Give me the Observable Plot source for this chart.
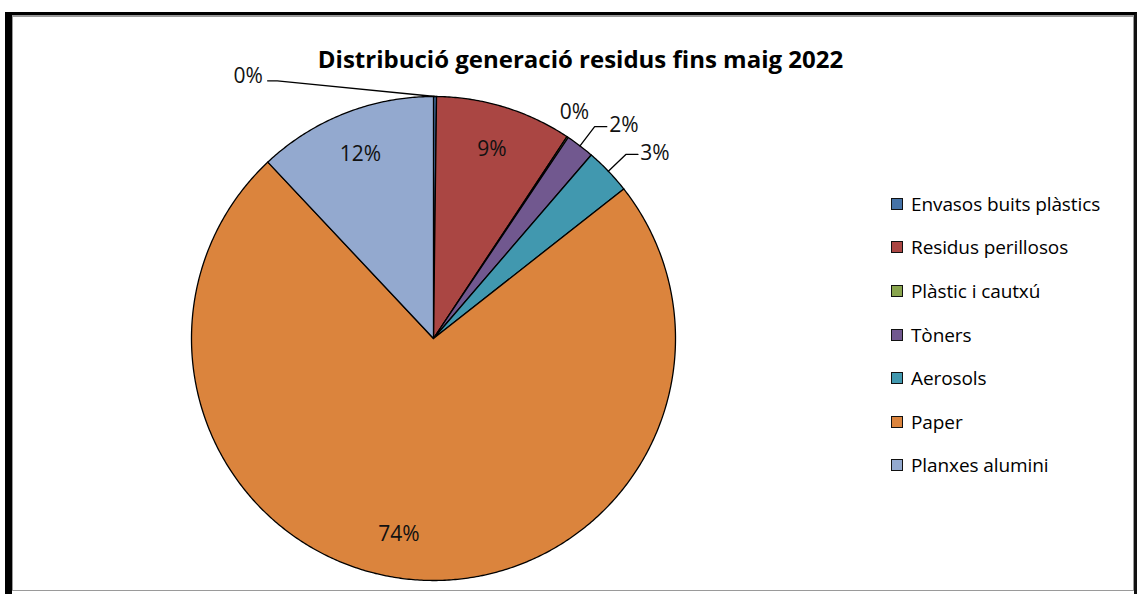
<!DOCTYPE html>
<html>
<head>
<meta charset="utf-8">
<script src="https://cdn.jsdelivr.net/npm/d3@7"></script>
<script src="https://cdn.jsdelivr.net/npm/@observablehq/plot@0.6"></script>
<style>
  html, body { margin: 0; padding: 0; background: #fff; }
  #wrap { position: relative; width: 1137px; height: 594px; overflow: hidden; font-family: "Open Sans", Lato, sans-serif; }
  #frame { position: absolute; left: 5px; top: 12px; width: 1122px; height: 600px;
           border-left: 7px solid #000; border-top: 3px solid #000; border-right: 3px solid #111; box-sizing: content-box; }
  #inner { position: absolute; left: 0; top: 0; right: 0; bottom: 24px; border: 1px solid #9a9a9a; border-top-width: 2px; }
  #chart { position: absolute; left: 0; top: 0; }
  #title { position: absolute; left: 0; width: 1161px; top: 42px; text-align: center; font-weight: 700; font-size: 24px; color: #000; letter-spacing: 0px; }
  #legend { position: absolute; left: 891px; top: 182px; }
  .item { display: flex; align-items: center; height: 43.6px; margin: 0; }
  .item span.sw { width: 10px; height: 10px; border: 1.5px solid #111; margin-right: 8px; flex: none; }
  .item span.lb { font-size: 19px; color: #000; white-space: nowrap; letter-spacing: -0.1px; }
</style>
</head>
<body>
<div id="wrap">
  <div id="frame"><div id="inner"></div></div>
  <div id="chart"></div>
  <div id="title">Distribució generació residus fins maig 2022</div>
  <div id="legend"></div>
</div>
<script>
const categories = ["Envasos buits plàstics", "Residus perillosos", "Plàstic i cautxú", "Tòners", "Aerosols", "Paper", "Planxes alumini"];
const values = [0.2, 9.1, 0.1, 1.9, 3.1, 73.6, 12.0];
const colors = ["#4572A7", "#AA4643", "#89A54E", "#71588F", "#4198AF", "#DB843D", "#93A9CF"];

const total = d3.sum(values);
const pie = d3.pie().sort(null).value(d => d)(values);

// slice polygons in unit-circle coordinates (angle 0 = top, clockwise)
const polar = (r, a) => [r * Math.sin(a), r * Math.cos(a)];
const slicePts = [];
pie.forEach((p, i) => {
  const key = categories[i];
  slicePts.push({k: key, x: 0, y: 0});
  const n = Math.max(2, Math.ceil((p.endAngle - p.startAngle) / (Math.PI / 360)));
  for (let j = 0; j <= n; j++) {
    const a = p.startAngle + (p.endAngle - p.startAngle) * j / n;
    const [x, y] = polar(1, a);
    slicePts.push({k: key, x, y});
  }
  slicePts.push({k: key, x: 0, y: 0});
});

const pct = v => Math.round(v / total * 100) + "%";
const mid = p => (p.startAngle + p.endAngle) / 2;

// label layout: large slices inside, small ones outside
const inside = [], outsideText = [], leaders = [];
pie.forEach((p, i) => {
  const share = values[i] / total;
  let a = mid(p);
  if (share > 0.05) {
    if (share > 0.5) a += 0.1; // best-fit nudge for the dominant slice
    const [x, y] = polar(0.82, a);
    inside.push({x, y, t: pct(values[i])});
  } else if (i === 0) {
    // first tiny slice: pushed left of the title
    const [x0, y0] = polar(1, a);
    const [x1, y1] = polar(1.245, -0.545);
    const x2 = x1 - 0.04;
    leaders.push({g: i, x: x0, y: y0}, {g: i, x: x1, y: y1}, {g: i, x: x2, y: y1});
    outsideText.push({x: x2 - 0.02, y: y1 + 0.02, t: pct(values[i]), anchor: "end"});
  } else if (share < 0.01) {
    const [x, y] = polar(1.1, a - 0.03);
    outsideText.push({x, y, t: pct(values[i]), anchor: "middle"});
  } else {
    const [x0, y0] = polar(1, a);
    const [x1, y1] = polar(1.1, a);
    const x2 = x1 + 0.05;
    leaders.push({g: i, x: x0, y: y0}, {g: i, x: x1, y: y1}, {g: i, x: x2, y: y1});
    outsideText.push({x: x2 + 0.01, y: y1 + 0.005, t: pct(values[i]), anchor: "start"});
  }
});

const font = {fontSize: 21, fill: "#111", fontFamily: "'Open Sans', Lato, sans-serif"};
const chart = Plot.plot({
  width: 1137,
  height: 594,
  margin: 0,
  x: {domain: [-1, 1], range: [191, 675], axis: null},
  y: {domain: [-1, 1], range: [580, 96], axis: null},
  color: {domain: categories, range: colors},
  style: {background: "transparent", fontFamily: "'Open Sans', Lato, sans-serif"},
  marks: [
    Plot.line(slicePts, {x: "x", y: "y", z: "k", fill: "k", stroke: "#000", strokeWidth: 1.3, strokeLinejoin: "round"}),
    Plot.line(leaders, {x: "x", y: "y", z: "g", stroke: "#000", strokeWidth: 1.3}),
    Plot.text(inside, {x: "x", y: "y", text: "t", ...font}),
    Plot.text(outsideText.filter(d => d.anchor === "start"), {x: "x", y: "y", text: "t", ...font, textAnchor: "start"}),
    Plot.text(outsideText.filter(d => d.anchor === "end"), {x: "x", y: "y", text: "t", ...font, textAnchor: "end"}),
    Plot.text(outsideText.filter(d => d.anchor === "middle"), {x: "x", y: "y", text: "t", ...font})
  ]
});
document.getElementById("chart").appendChild(chart);

const legend = document.getElementById("legend");
categories.forEach((c, i) => {
  const row = document.createElement("div");
  row.className = "item";
  const sw = document.createElement("span");
  sw.className = "sw";
  sw.style.background = colors[i];
  const lb = document.createElement("span");
  lb.className = "lb";
  lb.textContent = c;
  row.appendChild(sw);
  row.appendChild(lb);
  legend.appendChild(row);
});
</script>
</body>
</html>
